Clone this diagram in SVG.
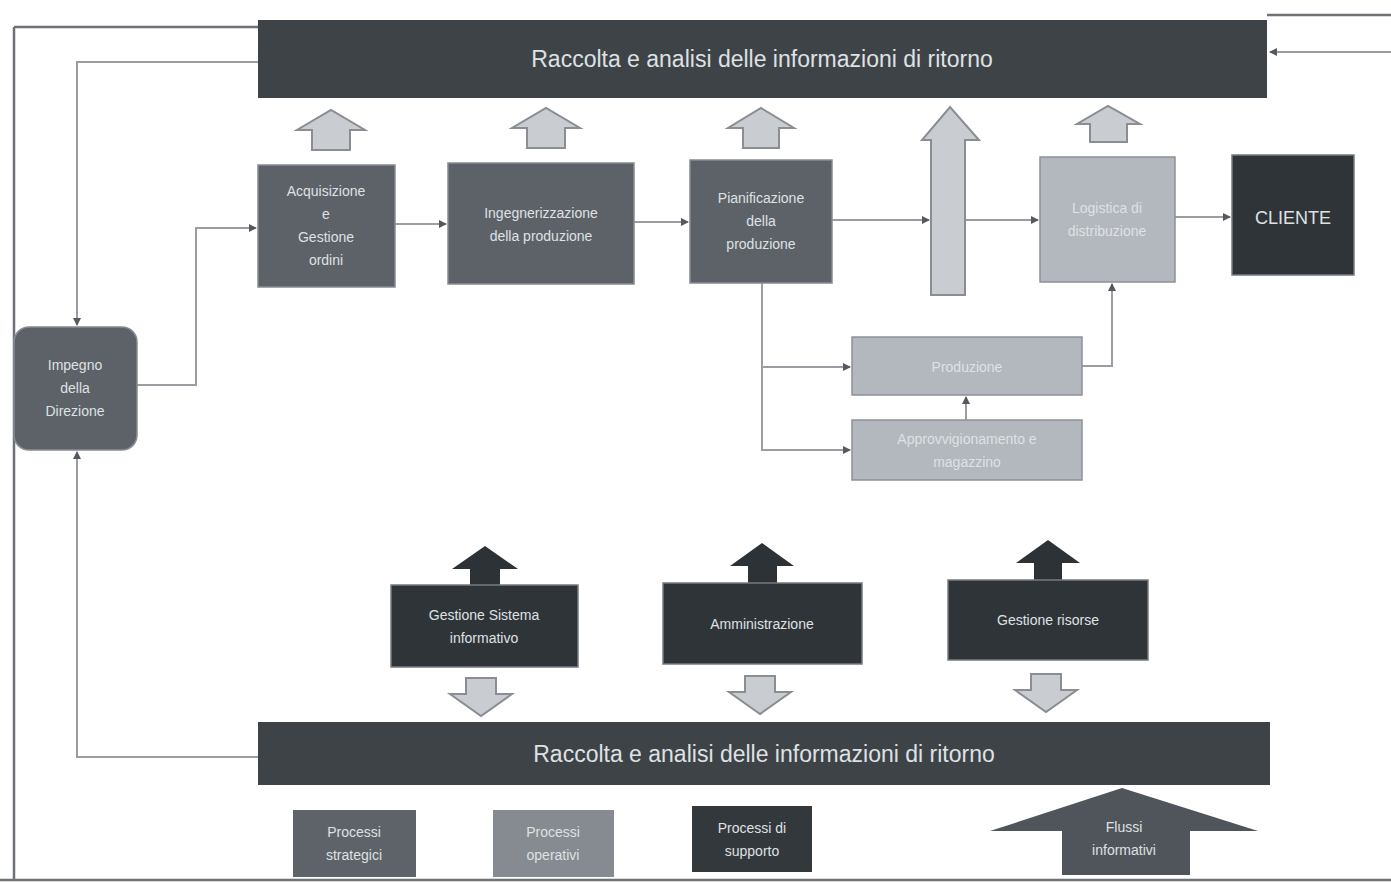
<svg xmlns="http://www.w3.org/2000/svg" width="1391" height="883" viewBox="0 0 1391 883">
<defs>
<style>
.t{font-family:"Liberation Sans","DejaVu Sans",sans-serif;fill:#dfe1e3;text-anchor:middle;font-size:14px}
.big{font-size:23px}
.ln{stroke:#9a9ea3;stroke-width:2;fill:none}
.frame{stroke:#6e7276;stroke-width:2.5;fill:none}
.dk{fill:#3e4348}
.md{fill:#5c6268;stroke:#888c90;stroke-width:1.5}
.lt{fill:#b3b7be;stroke:#8d9196;stroke-width:1.5}
.xd{fill:#2f3439;stroke:#777b80;stroke-width:1.5}
.ua{fill:#c9ccd1;stroke:#8a8e93;stroke-width:2}
.da{fill:#2d3237}
</style>
<marker id="ah" markerWidth="8" markerHeight="8" refX="7" refY="4" orient="auto" markerUnits="userSpaceOnUse">
<path d="M0,0 L8,4 L0,8 Z" fill="#55595e"/>
</marker>
</defs>
<rect width="1391" height="883" fill="#ffffff"/>
<g id="frame">
<path class="frame" d="M14,27 L258,27 M14,27 L14,880 M0,880 L1391,880 M1267,15 L1391,15"/>
</g>
<g id="connectors">
<path class="ln" d="M258,62 L77,62 L77,325" marker-end="url(#ah)"/>
<path class="ln" d="M258,757 L77,757 L77,452" marker-end="url(#ah)"/>
<path class="ln" d="M137,385 L196,385 L196,228 L256,228" marker-end="url(#ah)"/>
<path class="ln" d="M395,224 L446,224" marker-end="url(#ah)"/>
<path class="ln" d="M634,222 L688,222" marker-end="url(#ah)"/>
<path class="ln" d="M832,220 L929,220" marker-end="url(#ah)"/>
<path class="ln" d="M966,220 L1038,220" marker-end="url(#ah)"/>
<path class="ln" d="M1175,217 L1230,217" marker-end="url(#ah)"/>
<path class="ln" d="M762,283 L762,450 L850,450" marker-end="url(#ah)"/>
<path class="ln" d="M762,367 L850,367" marker-end="url(#ah)"/>
<path class="ln" d="M966,420 L966,397" marker-end="url(#ah)"/>
<path class="ln" d="M1082,366 L1112,366 L1112,284" marker-end="url(#ah)"/>
<path class="ln" d="M1391,52 L1270,52" marker-end="url(#ah)"/>
</g>
<g id="bar-top">
<rect class="dk" x="258" y="20" width="1009" height="78"/>
<text class="t big" x="762" y="67">Raccolta e analisi delle informazioni di ritorno</text>
</g>
<g id="up-arrows-top">
<path class="ua" d="M312,150 L312,130 L297,130 L331,110 L365,130 L350,130 L350,150 Z"/>
<path class="ua" d="M527,148 L527,128 L512,128 L546,108 L580,128 L565,128 L565,148 Z"/>
<path class="ua" d="M743,148 L743,128 L728,128 L761,108 L794,128 L779,128 L779,148 Z"/>
<path class="ua" d="M1090,142 L1090,124 L1077,124 L1108,106 L1140,124 L1127,124 L1127,142 Z"/>
</g>
<g id="tall-arrow">
<path class="ua" d="M931,295 L931,140 L922,140 L950,107 L979,140 L965,140 L965,295 Z"/>
</g>
<g id="strategie">
<rect class="md" x="14" y="327" width="123" height="123" rx="15"/>
<text class="t" x="75" y="370">Impegno</text>
<text class="t" x="75" y="393">della</text>
<text class="t" x="75" y="416">Direzione</text>
</g>
<g id="acquisizione">
<rect class="md" x="258" y="165" width="137" height="122"/>
<text class="t" x="326" y="196">Acquisizione</text>
<text class="t" x="326" y="219">e</text>
<text class="t" x="326" y="242">Gestione</text>
<text class="t" x="326" y="265">ordini</text>
</g>
<g id="ingegnerizzazione">
<rect class="md" x="448" y="163" width="186" height="121"/>
<text class="t" x="541" y="218">Ingegnerizzazione</text>
<text class="t" x="541" y="241">della produzione</text>
</g>
<g id="pianificazione">
<rect class="md" x="690" y="160" width="142" height="123"/>
<text class="t" x="761" y="203">Pianificazione</text>
<text class="t" x="761" y="226">della</text>
<text class="t" x="761" y="249">produzione</text>
</g>
<g id="logistica">
<rect class="lt" x="1040" y="157" width="135" height="125"/>
<text class="t" x="1107" y="213">Logistica di</text>
<text class="t" x="1107" y="236">distribuzione</text>
</g>
<g id="cliente">
<rect class="xd" x="1232" y="155" width="122" height="120"/>
<text class="t" x="1293" y="224" style="font-size:18px">CLIENTE</text>
</g>
<g id="produzione">
<rect class="lt" x="852" y="337" width="230" height="58"/>
<text class="t" x="967" y="372">Produzione</text>
</g>
<g id="approvvigionamento">
<rect class="lt" x="852" y="420" width="230" height="60"/>
<text class="t" x="967" y="444">Approvvigionamento e</text>
<text class="t" x="967" y="467">magazzino</text>
</g>
<g id="up-arrows-bottom">
<path class="da" d="M470,585 L470,569 L452,569 L485,546 L518,569 L500,569 L500,585 Z"/>
<path class="da" d="M748,583 L748,566 L730,566 L762,543 L794,566 L777,566 L777,583 Z"/>
<path class="da" d="M1034,580 L1034,563 L1016,563 L1048,540 L1080,563 L1062,563 L1062,580 Z"/>
</g>
<g id="gestione-sistema">
<rect class="xd" x="391" y="585" width="187" height="82"/>
<text class="t" x="484" y="620">Gestione Sistema</text>
<text class="t" x="484" y="643">informativo</text>
</g>
<g id="amministrazione">
<rect class="xd" x="663" y="583" width="199" height="81"/>
<text class="t" x="762" y="629">Amministrazione</text>
</g>
<g id="gestione-risorse">
<rect class="xd" x="948" y="580" width="200" height="80"/>
<text class="t" x="1048" y="625">Gestione risorse</text>
</g>
<g id="down-arrows">
<path class="ua" d="M466,678 L496,678 L496,694 L512,694 L481,716 L450,694 L466,694 Z"/>
<path class="ua" d="M745,676 L775,676 L775,692 L791,692 L760,714 L729,692 L745,692 Z"/>
<path class="ua" d="M1031,674 L1061,674 L1061,690 L1077,690 L1046,712 L1015,690 L1031,690 Z"/>
</g>
<g id="bar-bottom">
<rect class="dk" x="258" y="722" width="1012" height="63"/>
<text class="t big" x="764" y="762">Raccolta e analisi delle informazioni di ritorno</text>
</g>
<g id="legend-strategici">
<rect x="293" y="810" width="123" height="67" fill="#5d6368"/>
<text class="t" x="354" y="837">Processi</text>
<text class="t" x="354" y="860">strategici</text>
</g>
<g id="legend-operativi">
<rect x="493" y="810" width="121" height="67" fill="#868b91"/>
<text class="t" x="553" y="837">Processi</text>
<text class="t" x="553" y="860">operativi</text>
</g>
<g id="legend-supporto">
<rect x="692" y="806" width="120" height="66" fill="#33383d"/>
<text class="t" x="752" y="833">Processi di</text>
<text class="t" x="752" y="856">supporto</text>
</g>
<g id="legend-flussi">
<path d="M1062,875 L1062,831 L990,831 L1122,788 L1258,831 L1190,831 L1190,875 Z" fill="#4f555b"/>
<text class="t" x="1124" y="832">Flussi</text>
<text class="t" x="1124" y="855">informativi</text>
</g>
</svg>
